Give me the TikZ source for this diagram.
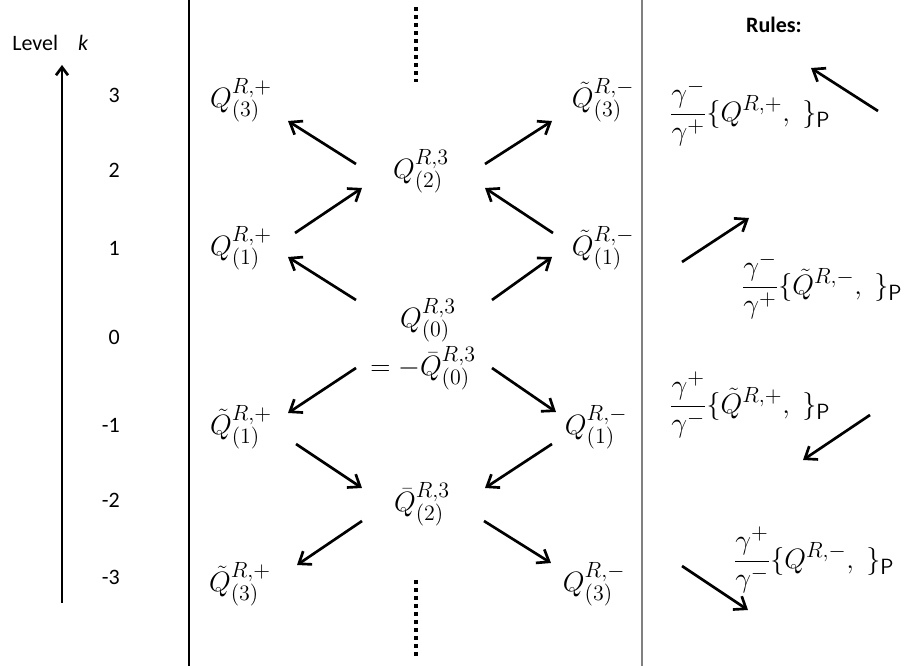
\RequirePackage{fix-cm}
\documentclass[tikz,border=0pt]{standalone}
\usepackage{fontspec}
\newfontfamily\carlito{Carlito}
\DeclareMathSizes{21}{21}{16.5}{12.5}
\usetikzlibrary{arrows.meta,calc}
\tikzset{
  mathlbl/.style={inner sep=0pt,font=\fontsize{21}{25}\selectfont},
  sanslbl/.style={inner sep=0pt,font=\carlito\fontsize{16.5}{19}\selectfont},
  arr/.style={line width=2pt,-{Straight Barb[length=8pt,width=12pt]}},
  axisarr/.style={line width=2pt,-{Straight Barb[length=6pt,width=9pt]}},
  dots/.style={line width=3pt,dash pattern=on 3pt off 3pt},
}
\begin{document}
\begin{tikzpicture}[x=0.75pt,y=-0.75pt]
\useasboundingbox (0,0) rectangle (904,666);
% separators
\draw[line width=0.8pt,black] (189,0) -- (189,666);
\draw[line width=1.5pt,black!50] (642,0) -- (642,666);
% level axis
\node[sanslbl,anchor=west] (lev) at (12,43) {Level};
\node[sanslbl] (kk) at (83,43) {\itshape k};
\coordinate (axb) at (62,603);
\coordinate (axt) at (62,65);
\draw[axisarr] (axb) -- (axt);
\node[sanslbl,anchor=east] (l3) at (120,95) {3};
\node[sanslbl,anchor=east] (l2) at (120,170) {2};
\node[sanslbl,anchor=east] (l1) at (120,248) {1};
\node[sanslbl,anchor=east] (l0) at (120,337) {0};
\node[sanslbl,anchor=east] (lm1) at (120,425) {-1};
\node[sanslbl,anchor=east] (lm2) at (120,500) {-2};
\node[sanslbl,anchor=east] (lm3) at (120,577) {-3};
% dotted
\coordinate (dt1) at (416,7);
\coordinate (dt2) at (416,82);
\coordinate (db1) at (416,580);
\coordinate (db2) at (416,656);
\draw[dots] (dt1) -- (dt2);
\draw[dots] (db1) -- (db2);
% nodes
\node[mathlbl] (q3p) at (241,100) {$Q^{R,+}_{(3)}$};
\node[mathlbl] (q3m) at (603,100) {$\tilde{Q}^{R,-}_{(3)}$};
\node[mathlbl] (q2) at (421,171) {$Q^{R,3}_{(2)}$};
\node[mathlbl] (q1p) at (241,248) {$Q^{R,+}_{(1)}$};
\node[mathlbl] (q1m) at (603,248) {$\tilde{Q}^{R,-}_{(1)}$};
\node[mathlbl] (q0) at (428,320) {$Q^{R,3}_{(0)}$};
\node[mathlbl] (q0b) at (423,368) {$=-\bar{Q}^{R,3}_{(0)}$};
\node[mathlbl] (q1tp) at (241,427) {$\tilde{Q}^{R,+}_{(1)}$};
\node[mathlbl] (q1n) at (596,427) {$Q^{R,-}_{(1)}$};
\node[mathlbl] (qb2) at (422,504) {$\bar{Q}^{R,3}_{(2)}$};
\node[mathlbl] (q3tp) at (240,584) {$\tilde{Q}^{R,+}_{(3)}$};
\node[mathlbl] (q3n) at (594,584) {$Q^{R,-}_{(3)}$};
% arrows
\draw[arr] ($(q2)+(-65,-7)$) -- ($(q3p)+(47,21)$);
\draw[arr] ($(q2)+(64,-7)$) -- ($(q3m)+(-51,21)$);
\draw[arr] ($(q1p)+(54,-15)$) -- ($(q2)+(-59,17)$);
\draw[arr] ($(q1m)+(-50,-15)$) -- ($(q2)+(64,17)$);
\draw[arr] ($(q0)+(-72,-20)$) -- ($(q1p)+(47,9)$);
\draw[arr] ($(q0)+(64,-20)$) -- ($(q1m)+(-51,9)$);
\draw[arr] ($(q0b)+(-67,0)$) -- ($(q1tp)+(47,-14)$);
\draw[arr] ($(q0b)+(69,0)$) -- ($(q1n)+(-40,-15)$);
\draw[arr] ($(q1tp)+(55,17)$) -- ($(qb2)+(-60,-16)$);
\draw[arr] ($(q1n)+(-44,17)$) -- ($(qb2)+(63,-16)$);
\draw[arr] ($(qb2)+(-60,17)$) -- ($(q3tp)+(57,-19)$);
\draw[arr] ($(qb2)+(62,17)$) -- ($(q3n)+(-43,-21)$);
% rules
\node[sanslbl,font=\carlito\bfseries\fontsize{16.5}{19}\selectfont] (rules) at (774,25) {Rules:};
\node[mathlbl] (r1) at (750,113) {$\displaystyle\frac{\gamma^-}{\gamma^+}\{Q^{R,+},\;\}_{\mathsf{P}}$};
\node[mathlbl] (r2) at (822,286) {$\displaystyle\frac{\gamma^-}{\gamma^+}\{\tilde{Q}^{R,-},\;\}_{\mathsf{P}}$};
\node[mathlbl] (r3) at (750,405) {$\displaystyle\frac{\gamma^+}{\gamma^-}\{\tilde{Q}^{R,+},\;\}_{\mathsf{P}}$};
\node[mathlbl] (r4) at (814,560) {$\displaystyle\frac{\gamma^+}{\gamma^-}\{Q^{R,-},\;\}_{\mathsf{P}}$};
\draw[arr] ($(r1)+(128,-2)$) -- ($(r1)+(61,-45)$);
\draw[arr] ($(r2)+(-140,-24)$) -- ($(r2)+(-73,-68)$);
\draw[arr] ($(r3)+(120,10)$) -- ($(r3)+(53,55)$);
\draw[arr] ($(r4)+(-132,6)$) -- ($(r4)+(-66,50)$);
\end{tikzpicture}
\end{document}
